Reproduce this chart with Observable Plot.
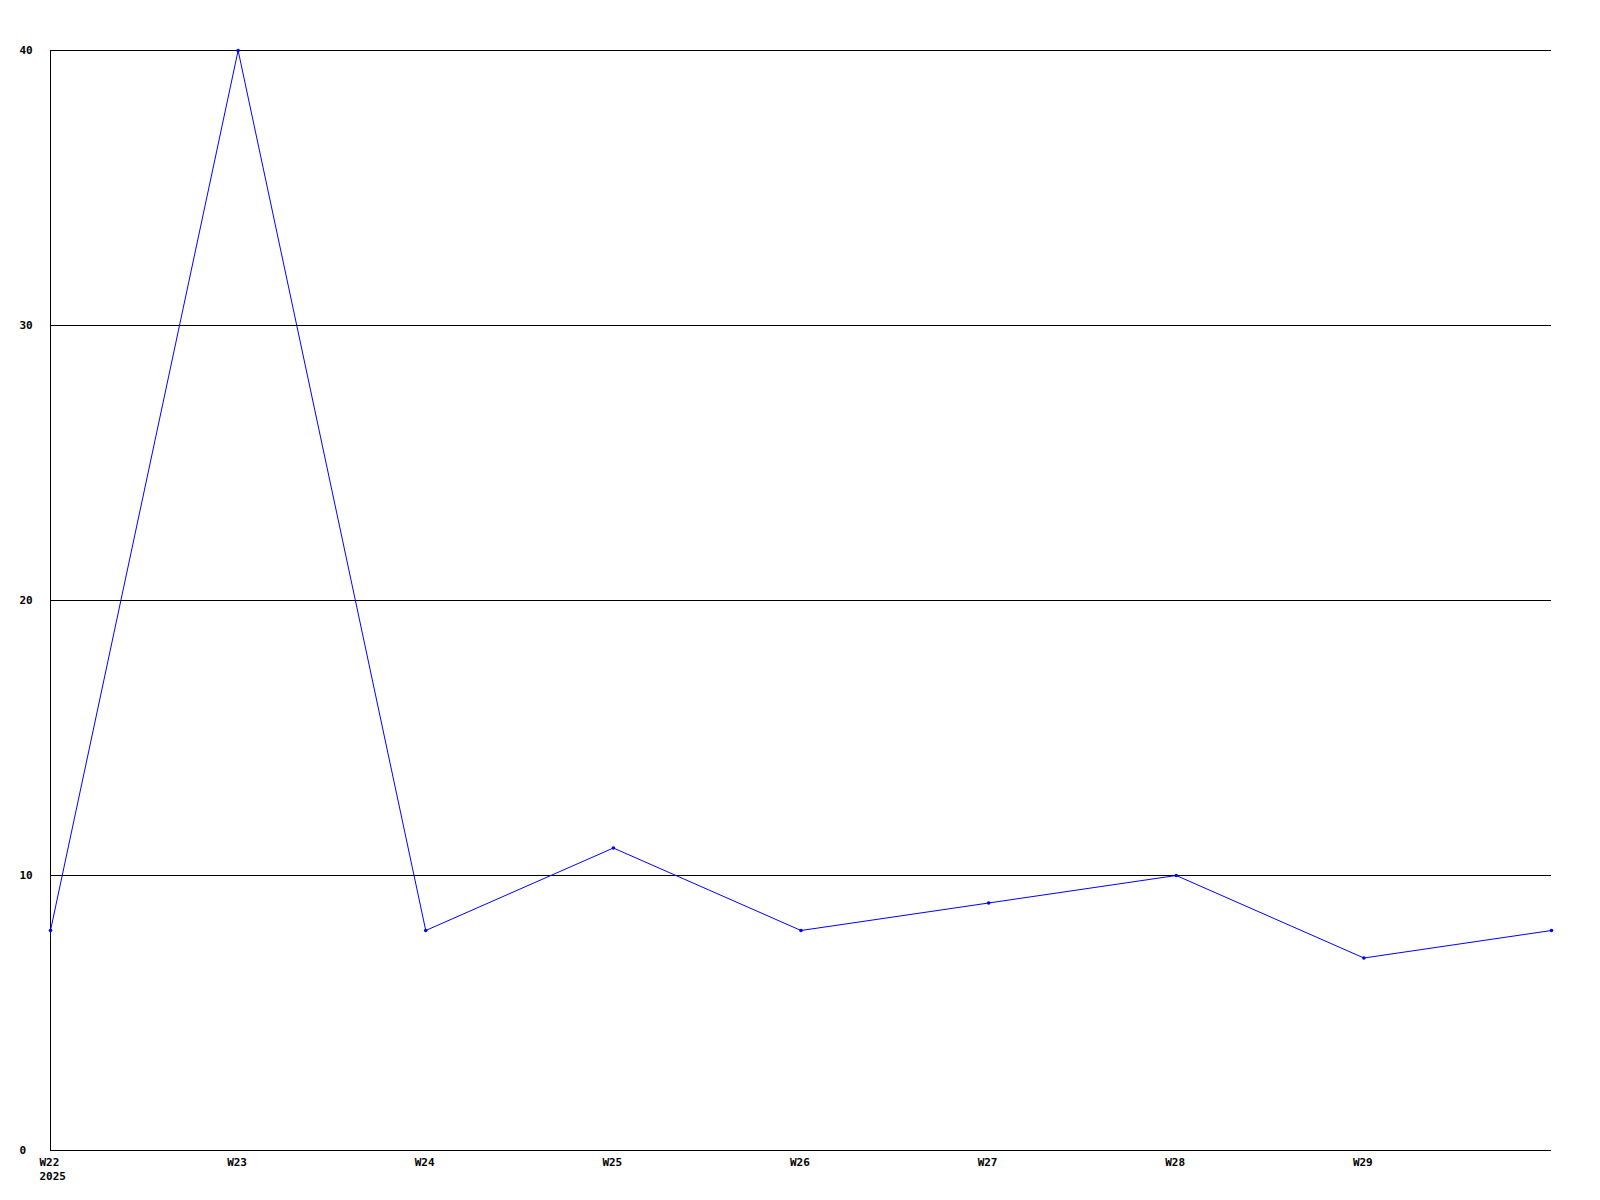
<!DOCTYPE html>
<html>
<head>
<meta charset="utf-8">
<script src="https://cdn.jsdelivr.net/npm/d3@7"></script>
<script src="https://cdn.jsdelivr.net/npm/@observablehq/plot@0.6"></script>
<style>
  html, body { margin: 0; padding: 0; background: #fff; }
  #chart svg { display: block; }
</style>
</head>
<body>
<div id="chart"></div>
<script>
const weeks = [22, 23, 24, 25, 26, 27, 28, 29, 30];
const counts = [8, 40, 8, 11, 8, 9, 10, 7, 8];
const tickWeeks = [22, 23, 24, 25, 26, 27, 28, 29];
const yearLabel = "2025";
const yTicks = [0, 10, 20, 30, 40];
const gridValues = [10, 20, 30, 40];

const data = weeks.map((w, i) => ({week: w, count: counts[i]}));

const chart = Plot.plot({
  width: 1600,
  height: 1200,
  marginLeft: 50,
  marginRight: 49,
  marginTop: 50,
  marginBottom: 50,
  style: {fontFamily: "'DejaVu Sans Mono', monospace", fontSize: "11px", fontWeight: "bold", color: "#000", background: "#fff"},
  x: {domain: [22, 30]},
  y: {domain: [0, 40]},
  marks: [
    Plot.ruleY(gridValues, {stroke: "#000", strokeWidth: 1, strokeOpacity: 1}),
    Plot.ruleY([0], {stroke: "#000", strokeWidth: 1}),
    Plot.ruleX([22], {stroke: "#000", strokeWidth: 1}),
    Plot.axisY(yTicks, {tickSize: 0, textAnchor: "start", dx: -22, label: null, fontWeight: "bold"}),
    Plot.axisX(tickWeeks, {tickSize: 0, textAnchor: "start", dx: -11, dy: -4, lineHeight: 1.3, label: null, fontWeight: "bold",
      tickFormat: (d) => d === tickWeeks[0] ? `W${d}\n${yearLabel}` : `W${d}`}),
    Plot.line(data, {x: "week", y: "count", stroke: "#0000ff", strokeWidth: 1}),
    Plot.dot(data, {x: "week", y: "count", r: 1.8, fill: "#0000ff", stroke: null})
  ]
});
document.getElementById("chart").appendChild(chart);
</script>
</body>
</html>
